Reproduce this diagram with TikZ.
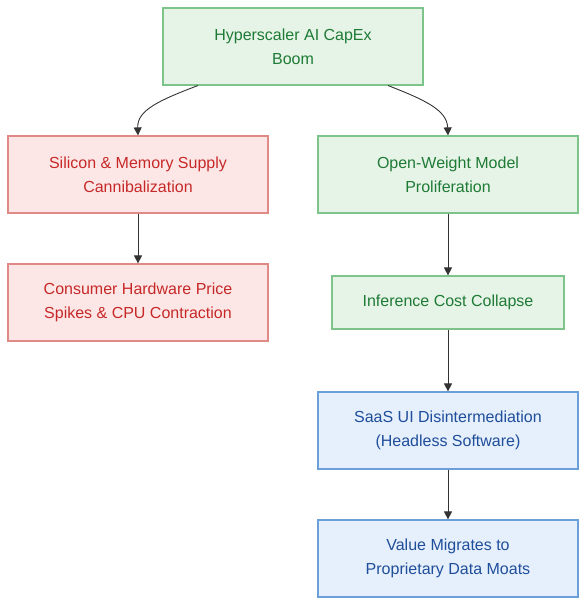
\documentclass[tikz,border=0pt]{standalone}
\usepackage{fontspec}
\setmainfont{Liberation Sans}
\usetikzlibrary{arrows.meta}
\definecolor{gfill}{HTML}{E6F4E7}
\definecolor{gdraw}{HTML}{7CC48A}
\definecolor{gtext}{HTML}{1E7A35}
\definecolor{rfill}{HTML}{FDE7E6}
\definecolor{rdraw}{HTML}{E08A86}
\definecolor{rtext}{HTML}{C62828}
\definecolor{bfill}{HTML}{E6EFFC}
\definecolor{bdraw}{HTML}{6A9FD8}
\definecolor{btext}{HTML}{1F4E9A}
\definecolor{edge}{HTML}{333333}
\tikzset{
  box/.style={draw, line width=1.2pt, minimum width=260pt, minimum height=77pt, align=center, inner sep=0pt,
    font=\fontsize{16}{24}\selectfont},
  gbox/.style={box, fill=gfill, draw=gdraw, text=gtext},
  rbox/.style={box, fill=rfill, draw=rdraw, text=rtext},
  bbox/.style={box, fill=bfill, draw=bdraw, text=btext},
  conn/.style={draw=edge, line width=0.9pt, -{Triangle[length=8pt,width=8pt]}}
}
\begin{document}
\begin{tikzpicture}[x=1pt,y=-1pt]
\useasboundingbox (0,0) rectangle (586,606);
\node[gbox] (a) at (293,46.5) {Hyperscaler AI CapEx\\Boom};
\node[rbox] (b) at (138,174.5) {Silicon \& Memory Supply\\Cannibalization};
\node[gbox] (c) at (448,174.5) {Open-Weight Model\\Proliferation};
\node[rbox] (d) at (138,302.5) {Consumer Hardware Price\\Spikes \& CPU Contraction};
\node[gbox, minimum width=232pt, minimum height=53pt] (e) at (448,302.5) {Inference Cost Collapse};
\node[bbox] (f) at (448,430.5) {SaaS UI Disintermediation\\(Headless Software)};
\node[bbox] (g) at (448,558.5) {Value Migrates to\\Proprietary Data Moats};
\coordinate (a1) at (198,85.5);
\coordinate (a2) at (388,85.5);
\draw[conn] (a1) .. controls (160,100) and (137,110) .. (b.north);
\draw[conn] (a2) .. controls (425,100) and (447,110) .. (c.north);
\draw[conn] (b) -- (d);
\draw[conn] (c) -- (e);
\draw[conn] (e) -- (f);
\draw[conn] (f) -- (g);
\end{tikzpicture}
\end{document}
